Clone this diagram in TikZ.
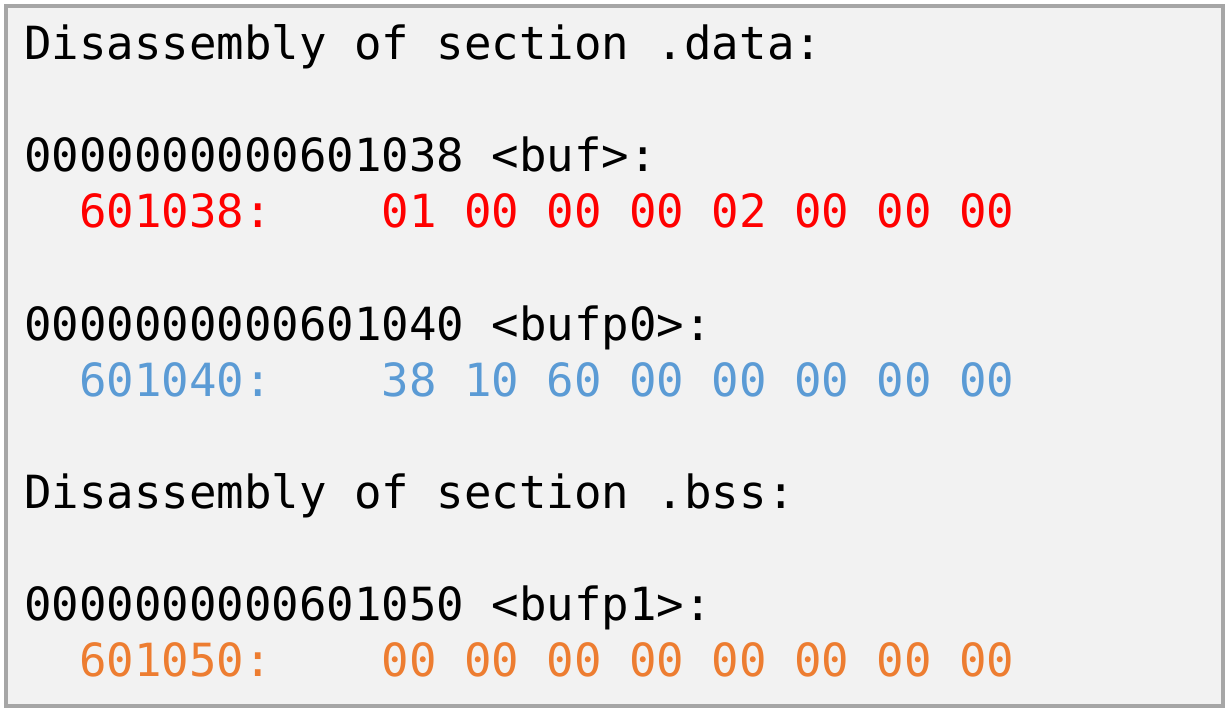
\documentclass[tikz,border=0pt]{standalone}
\usepackage{fontspec}
\setmonofont{DejaVu Sans Mono}
\definecolor{bgfill}{HTML}{F2F2F2}
\definecolor{frame}{HTML}{A6A6A6}
\definecolor{cred}{HTML}{FF0000}
\definecolor{cblue}{HTML}{5B9BD5}
\definecolor{corange}{HTML}{ED7D31}
\tikzset{
  codeline/.style={anchor=base west, inner sep=0pt, font=\ttfamily\fontsize{45.7bp}{56bp}\selectfont},
}
\begin{document}
\begin{tikzpicture}[x=1bp,y=-1bp]
\useasboundingbox (0,0) rectangle (1232,715);
\draw[frame, line width=3.5bp, fill=bgfill] (6,6) rectangle (1223,706);
\def\cw{27.5}
\def\xo{24}
\node[codeline] (l1) at (\xo,60) {Disassembly of section .data:};
\node[codeline] (l3) at (\xo,172) {0000000000601038 <buf>:};
\node[codeline, text=cred] (a4) at (\xo+2*\cw,228) {601038:};
\node[codeline, text=cred] (b4) at (\xo+13*\cw,228) {01 00 00 00 02 00 00 00};
\node[codeline] (l6) at (\xo,340) {0000000000601040 <bufp0>:};
\node[codeline, text=cblue] (a7) at (\xo+2*\cw,396) {601040:};
\node[codeline, text=cblue] (b7) at (\xo+13*\cw,396) {38 10 60 00 00 00 00 00};
\node[codeline] (l9) at (\xo,508) {Disassembly of section .bss:};
\node[codeline] (l11) at (\xo,620) {0000000000601050 <bufp1>:};
\node[codeline, text=corange] (a12) at (\xo+2*\cw,676) {601050:};
\node[codeline, text=corange] (b12) at (\xo+13*\cw,676) {00 00 00 00 00 00 00 00};
\end{tikzpicture}
\end{document}
